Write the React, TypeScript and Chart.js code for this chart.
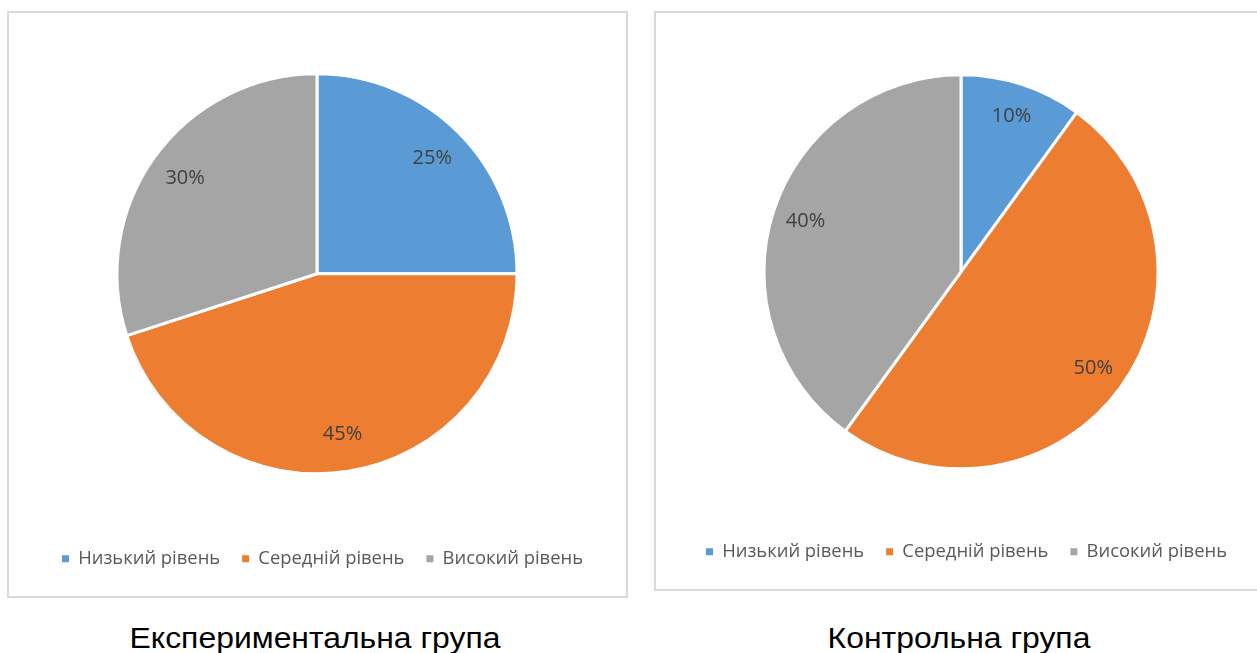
import React, { useEffect, useRef } from "react";
import { Chart, registerables } from "chart.js";

Chart.register(...registerables);

const categories = ["Низький рівень", "Середній рівень", "Високий рівень"];
const experimentalValues = [25, 45, 30];
const controlValues = [10, 50, 40];
const colors = ["#5B9BD5", "#ED7D31", "#A5A5A5"];
const captions = ["Експериментальна група", "Контрольна група"];

const FONT = "'Open Sans', 'Noto Sans', sans-serif";

const pieLabelsPlugin = {
  id: "pieLabels",
  afterLayout(chart: any, _args: any, opts: any) {
    const dx = opts.shiftX || 0;
    chart.chartArea.left += dx;
    chart.chartArea.right += dx;
  },
  afterDatasetsDraw(chart: any, _args: any, opts: any) {
    const ctx = chart.ctx;
    const meta = chart.getDatasetMeta(0);
    const data = chart.data.datasets[0].data;
    const total = data.reduce((a: number, b: number) => a + b, 0);
    ctx.save();
    ctx.font = `${opts.size || 20}px ${FONT}`;
    ctx.fillStyle = "#404040";
    ctx.textAlign = "center";
    ctx.textBaseline = "middle";
    meta.data.forEach((arc: any, i: number) => {
      const p = arc.getProps(["x", "y", "startAngle", "endAngle", "outerRadius"], true);
      const mid = (p.startAngle + p.endAngle) / 2;
      const r = p.outerRadius * (opts.factor || 0.8);
      const pct = Math.round((data[i] / total) * 100);
      ctx.fillText(pct + "%", p.x + Math.cos(mid) * r, p.y + Math.sin(mid) * r);
    });
    ctx.restore();
  },
};

function PieBox(props: {
  values: number[];
  radius: number;
  factor: number;
  shiftX: number;
  padTop: number;
  padBottom: number;
  width: number;
  height: number;
}) {
  const ref = useRef<HTMLCanvasElement | null>(null);
  useEffect(() => {
    if (!ref.current) return;
    const chart = new Chart(ref.current, {
      type: "pie",
      data: {
        labels: categories,
        datasets: [
          {
            data: props.values,
            backgroundColor: colors,
            borderColor: "#ffffff",
            borderWidth: 3,
          },
        ],
      },
      options: {
        animation: false,
        responsive: false,
        radius: props.radius,
        layout: { padding: { top: props.padTop, bottom: props.padBottom, left: 0, right: 0 } },
        plugins: {
          tooltip: { enabled: false },
          legend: {
            position: "bottom",
            labels: {
              boxWidth: 7,
              boxHeight: 7,
              padding: 22,
              color: "#595959",
              font: { family: FONT, size: 18.4 },
              generateLabels(chart: any) {
                const base = (Chart as any).overrides.pie.plugins.legend.labels.generateLabels(chart);
                return base.map((it: any) => ({ ...it, lineWidth: 0, strokeStyle: it.fillStyle }));
              },
            },
          },
          pieLabels: { factor: props.factor, shiftX: props.shiftX, size: 20 },
        } as any,
      } as any,
      plugins: [pieLabelsPlugin],
    });
    return () => chart.destroy();
  }, []);
  return <canvas ref={ref} width={props.width} height={props.height} style={{ display: "block" }} />;
}

const captionStyle: React.CSSProperties = {
  position: "absolute",
  top: 622,
  textAlign: "center",
  font: "29px 'Liberation Sans', Arial, sans-serif",
  lineHeight: "32px",
  color: "#000",
  transform: "scaleX(1.1)",
};

export default function App() {
  return (
    <div
      style={{
        position: "fixed",
        left: 0,
        top: 0,
        width: 1257,
        height: 653,
        overflow: "hidden",
        background: "#ffffff",
      }}
    >
      <div
        style={{
          position: "absolute",
          left: 7,
          top: 11,
          width: 621,
          height: 587,
          boxSizing: "border-box",
          border: "2px solid #d9d9d9",
        }}
      />
      <div style={{ position: "absolute", left: 9, top: 13 }}>
        <PieBox
          values={experimentalValues}
          radius={200}
          factor={0.815}
          shiftX={-5.5}
          padTop={7}
          padBottom={18}
          width={627}
          height={583}
        />
      </div>
      <div
        style={{
          position: "absolute",
          left: 654,
          top: 11,
          width: 640,
          height: 580,
          boxSizing: "border-box",
          border: "2px solid #d9d9d9",
        }}
      />
      <div style={{ position: "absolute", left: 656, top: 13 }}>
        <PieBox
          values={controlValues}
          radius={197}
          factor={0.83}
          shiftX={-5.5}
          padTop={10}
          padBottom={18}
          width={621}
          height={576}
        />
      </div>
      <div style={{ ...captionStyle, left: 0, width: 630 }}>{captions[0]}</div>
      <div style={{ ...captionStyle, left: 655, width: 608 }}>{captions[1]}</div>
    </div>
  );
}
